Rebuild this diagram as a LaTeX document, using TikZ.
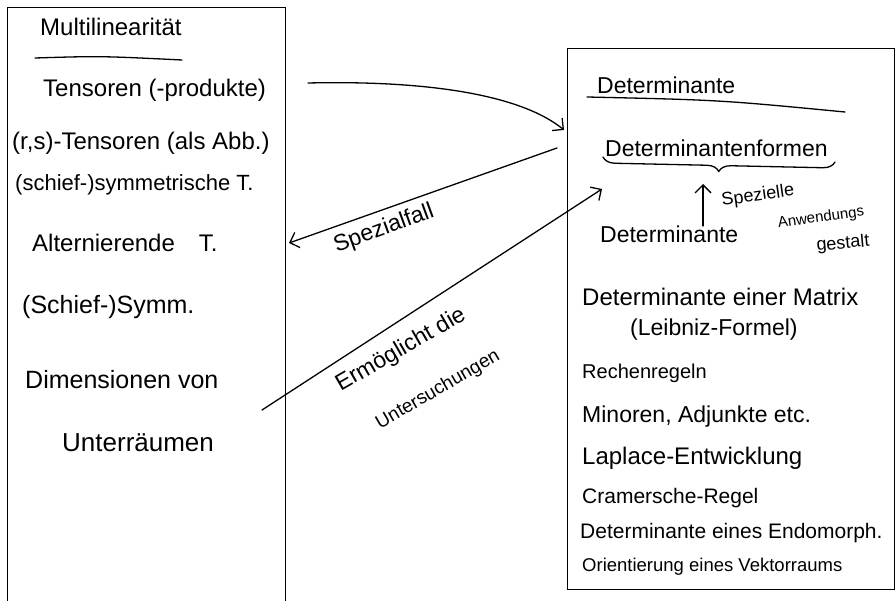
\documentclass[tikz,border=0pt]{standalone}
\usepackage{fontspec}
\setmainfont{Liberation Sans}
\usetikzlibrary{arrows.meta,decorations.pathreplacing}
\begin{document}
\begin{tikzpicture}[x=1pt,y=-1pt,
  frame/.style={draw, line width=1.4pt, anchor=north west, inner sep=0pt},
  item/.style={anchor=west, inner sep=0pt, font=\fontsize{#1}{#1}\selectfont},
  item/.default=22,
  lbl/.style={inner sep=0pt, font=\fontsize{#1}{#1}\selectfont},
  lbl/.default=20,
  pen/.style={line width=1.3pt, line cap=round, line join=round},
  conn/.style={pen, -{Straight Barb[length=8pt,width=16pt,line width=1.3pt]}}
]
\useasboundingbox (0,0) rectangle (896,601);
\fill[white] (0,0) rectangle (896,601);

% boxes
\node[frame, minimum width=278pt, minimum height=596pt] (multi) at (7,7) {};
\node[frame, minimum width=327pt, minimum height=541pt] (det) at (567,48) {};

% left box contents
\node[item=24] (m0) at (40,27) {Multilinearität};
\draw[pen] (35,58) .. controls (100,56) .. (182,60);
\node[item=24] (m1) at (43,90) {Tensoren (-produkte)};
\node[item=24] (m2) at (12,143) {(r,s)-Tensoren (als Abb.)};
\node[item=22] (m3) at (15,185) {(schief-)symmetrische T.};
\node[item=24] (m4) at (32,243) {Alternierende\quad T.};
\node[item=25] (m5) at (22,307) {(Schief-)Symm.};
\node[item=25] (m6) at (25,380) {Dimensionen von};
\node[item=26] (m7) at (62,443) {Unterräumen};

% right box contents
\node[item=23] (d0) at (597,85) {Determinante};
\draw[pen] (587,97) .. controls (720,100) .. (845,112);
\node[item=23] (d1) at (605,148) {Determinantenformen};
\draw[pen, decorate, decoration={brace, mirror, amplitude=12pt}] (603,157) -- (835,162);
\node[item=23] (d2) at (600,234) {Determinante};
\coordinate (upS) at (703,226);
\coordinate (upE) at (703,184);
\draw[conn] (upS) -- (upE);
\node[lbl=18, rotate=8] (s1) at (758,196) {Spezielle};
\node[lbl=15, rotate=8] (s2) at (821,218) {Anwendungs};
\node[lbl=18, rotate=5] (s3) at (843,244) {gestalt};
\node[item=24] (d3) at (582,297) {Determinante einer Matrix};
\node[item=23] (d4) at (630,330) {(Leibniz-Formel)};
\node[item=20] (d5) at (582,373) {Rechenregeln};
\node[item=23] (d6) at (582,417) {Minoren, Adjunkte etc.};
\node[item=24] (d7) at (582,458) {Laplace-Entwicklung};
\node[item=21] (d8) at (582,498) {Cramersche-Regel};
\node[item=21] (d9) at (580,533) {Determinante eines Endomorph.};
\node[item=18.5] (d10) at (582,567) {Orientierung eines Vektorraums};

% connectors
\coordinate (aS) at (308,83);
\coordinate (aE) at (564,130);
\draw[conn] (aS) .. controls (440,80) and (525,98) .. (aE);

\coordinate (bS) at (557,148);
\coordinate (bE) at (289,243);
\draw[conn] (bS) -- (bE);
\node[lbl=23, rotate=20] (spf) at (384,229) {Spezialfall};

\coordinate (cS) at (262,410);
\coordinate (cE) at (602,189);
\draw[conn] (cS) -- (cE);
\node[lbl=23, rotate=30] (e1) at (401,350) {Ermöglicht die};
\node[lbl=19, rotate=30] (e2) at (438,390) {Untersuchungen};
\end{tikzpicture}
\end{document}
